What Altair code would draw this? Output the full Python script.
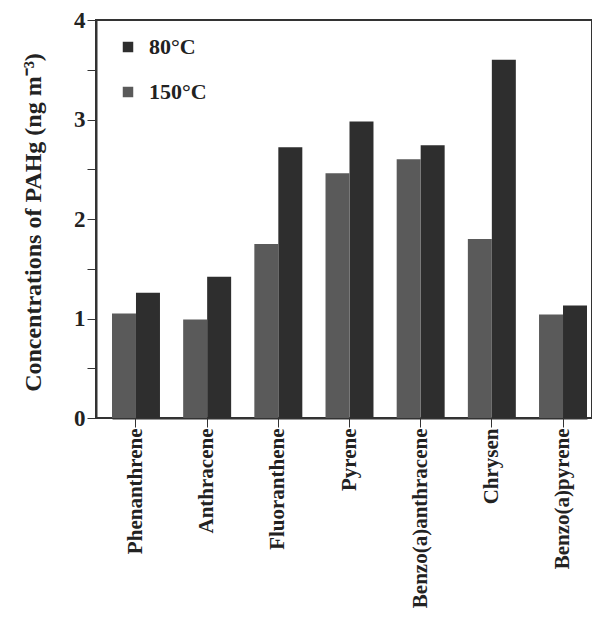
import altair as alt
import pandas as pd

categories = ["Phenanthrene", "Anthracene", "Fluoranthene", "Pyrene",
              "Benzo(a)anthracene", "Chrysen", "Benzo(a)pyrene"]
series = ["80°C", "150°C"]
values_80 = [1.26, 1.42, 2.72, 2.98, 2.74, 3.60, 1.13]
values_150 = [1.05, 0.99, 1.75, 2.46, 2.60, 1.80, 1.04]
y_ticks = [0, 0.5, 1, 1.5, 2, 2.5, 3, 3.5, 4]

rows = []
for c, a, b in zip(categories, values_80, values_150):
    rows.append({"compound": c, "temp": "80°C", "value": a})
    rows.append({"compound": c, "temp": "150°C", "value": b})
df = pd.DataFrame(rows)

FONT = "Liberation Serif"

chart = alt.Chart(df).mark_bar().encode(
    x=alt.X("compound:N", sort=categories,
            scale=alt.Scale(range=[16, 491], paddingInner=0.326, paddingOuter=0),
            axis=alt.Axis(title=None, labelAngle=-90, labelFont=FONT, labelFontSize=21,
                          labelFontWeight="bold", labelColor="#222", tickColor="#333",
                          tickSize=9, labelPadding=1, labelLimit=0,
                          domainColor="#333", domainWidth=2)),
    xOffset=alt.XOffset("temp:N", sort=["150°C", "80°C"],
                        scale=alt.Scale(paddingInner=0, paddingOuter=0)),
    y=alt.Y("value:Q", scale=alt.Scale(domain=[0, 4], nice=False),
            axis=alt.Axis(title="Concentrations of PAHg (ng m⁻³)", values=y_ticks,
                          labelExpr="datum.value % 1 == 0 ? format(datum.value, 'd') : ''",
                          labelFont=FONT, labelFontSize=23, labelFontWeight="bold",
                          labelColor="#222", tickColor="#333", tickSize=9, labelPadding=2,
                          domainColor="#333", domainWidth=2, grid=False,
                          titleFont=FONT, titleFontSize=24, titleFontWeight="bold",
                          titleColor="#222", titleAngle=-90, titleX=-56, titleY=202,
                          titleAlign="center", titleBaseline="alphabetic")),
    color=alt.Color("temp:N", scale=alt.Scale(domain=series, range=["#2e2e2e", "#5a5a5a"]),
                    legend=alt.Legend(title=None, orient="none", legendX=21, legendY=16,
                                      symbolType="square", symbolSize=110,
                                      symbolStrokeWidth=0, symbolOpacity=1,
                                      labelFont=FONT, labelFontSize=22, labelFontWeight="bold",
                                      labelColor="#222", labelOffset=10, rowPadding=23)),
).properties(
    width=496, height=398,
    autosize=alt.AutoSizeParams(type="none"),
    padding={"left": 88, "top": 12, "right": 0, "bottom": 193},
).configure_view(stroke="#333", strokeWidth=2)

chart.save("out.html", embed_options={"renderer": "svg", "actions": False})
